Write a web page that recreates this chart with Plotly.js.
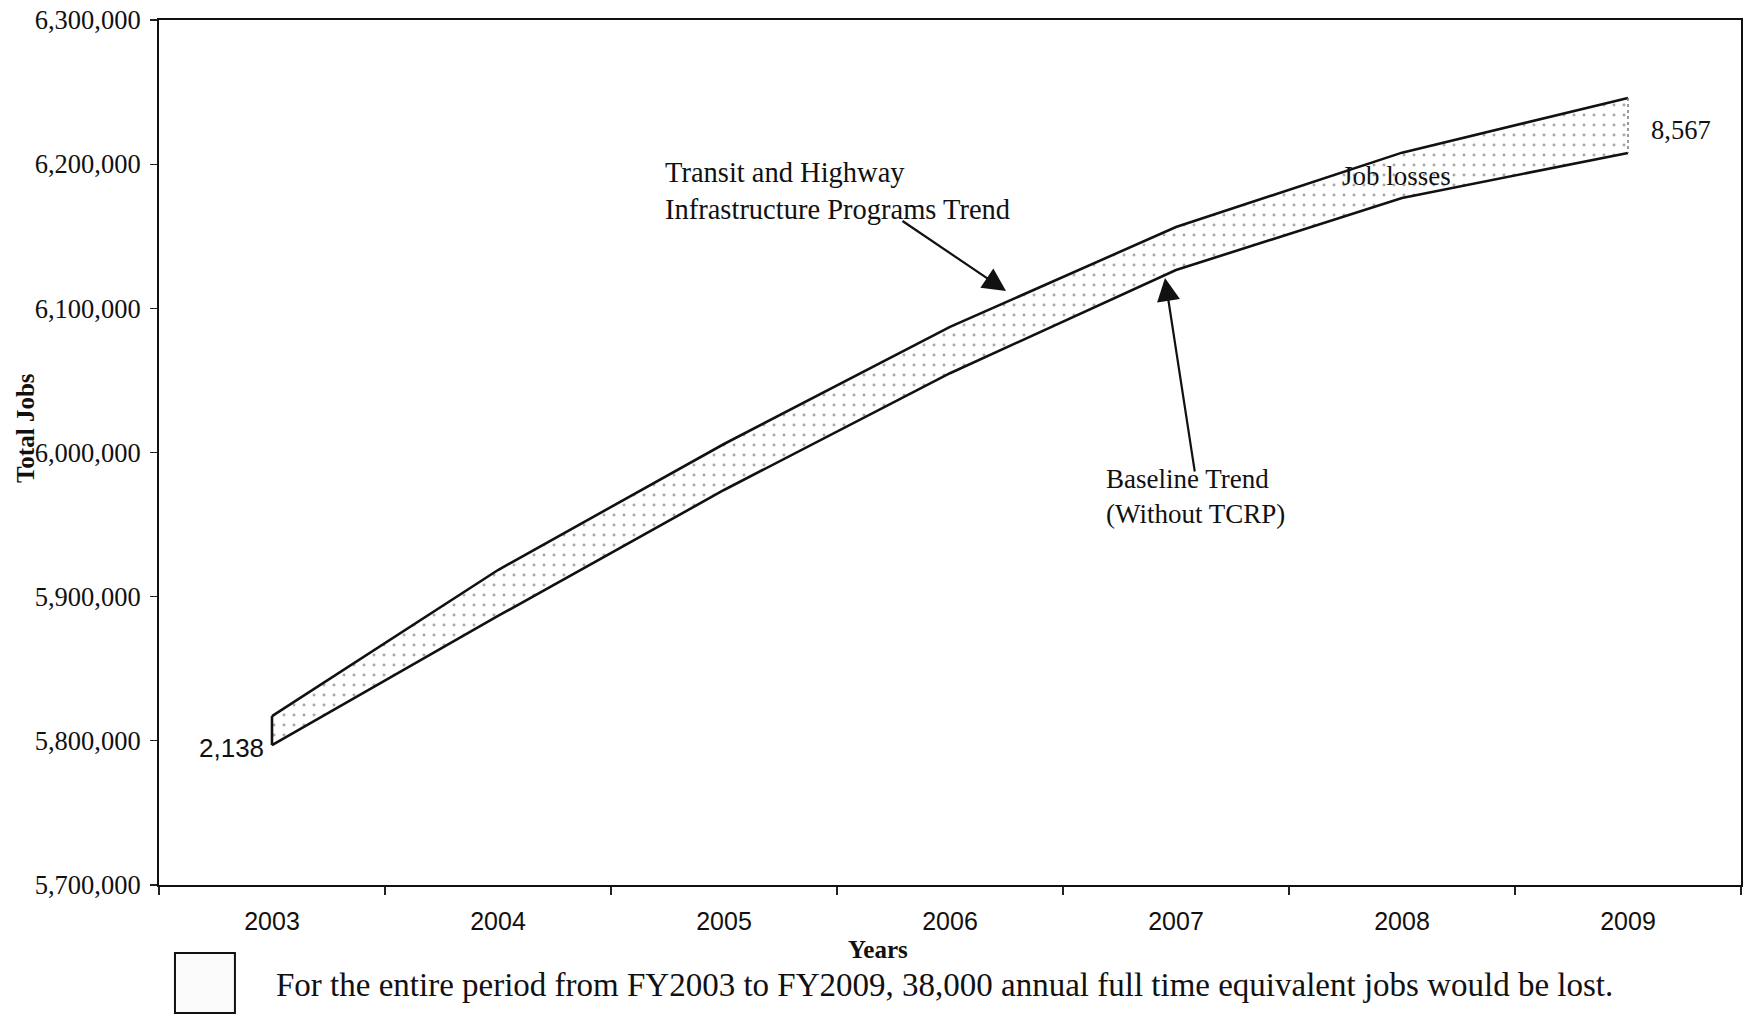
<!DOCTYPE html>
<html>
<head>
<meta charset="utf-8">
<script src="https://cdn.plot.ly/plotly-3.0.1.min.js"></script>
<style>
html,body{margin:0;padding:0;background:#fff;}
#chart{width:1744px;height:1016px;}
</style>
</head>
<body>
<div id="chart"></div>
<script>
// ---- data ----
const years = ['2003','2004','2005','2006','2007','2008','2009'];
const programsTrend = [5817200, 5918500, 6005900, 6087100, 6156400, 6208000, 6245900];
const baselineTrend = [5797000, 5886600, 5974000, 6055000, 6126600, 6176500, 6207800];
const yTicks = [5700000, 5800000, 5900000, 6000000, 6100000, 6200000, 6300000];
const startGapLabel = '2,138';
const endGapLabel = '8,567';
const programsLabel = 'Transit and Highway<br>Infrastructure Programs Trend';
const baselineLabel = 'Baseline Trend<br>(Without TCRP)';
const bandLabel = 'Job losses';
const noteText = 'For the entire period from FY2003 to FY2009, 38,000 annual full time equivalent jobs would be lost.';

const serif = 'Liberation Serif, Times New Roman, serif';
const sans = 'Liberation Sans, Arial, sans-serif';

const last = years.length - 1;
const traces = [
  { // shaded band between the two trends
    x: years.concat(years.slice().reverse()),
    y: programsTrend.concat(baselineTrend.slice().reverse()),
    type: 'scatter', mode: 'lines', fill: 'toself',
    fillcolor: 'rgba(255,255,255,1)',
    fillpattern: {shape: '.', fgcolor: '#a8a8a8', bgcolor: '#ffffff', size: 10, solidity: 0.07},
    line: {width: 0, color: 'rgba(0,0,0,0)'},
    hoverinfo: 'skip', showlegend: false
  },
  {
    x: years, y: programsTrend, type: 'scatter', mode: 'lines',
    line: {color: '#111', width: 2.6}, showlegend: false, name: 'Programs'
  },
  {
    x: years, y: baselineTrend, type: 'scatter', mode: 'lines',
    line: {color: '#111', width: 2.6}, showlegend: false, name: 'Baseline'
  },
  { // start cap
    x: [years[0], years[0]], y: [programsTrend[0], baselineTrend[0]],
    type: 'scatter', mode: 'lines', line: {color: '#111', width: 2.6},
    showlegend: false, hoverinfo: 'skip'
  },
  { // end cap (dotted)
    x: [years[last], years[last]], y: [programsTrend[last], baselineTrend[last]],
    type: 'scatter', mode: 'lines', line: {color: '#777', width: 1.5, dash: 'dot'},
    showlegend: false, hoverinfo: 'skip'
  }
];

const layout = {
  width: 1744, height: 1016,
  margin: {l: 159, r: 3, t: 20, b: 131},
  paper_bgcolor: '#fff', plot_bgcolor: '#fff',
  showlegend: false,
  xaxis: {
    type: 'category', range: [-0.5, 6.5],
    tickson: 'boundaries', ticks: 'outside', ticklen: 8, tickcolor: '#222', tickwidth: 1.2,
    showgrid: false, zeroline: false,
    showline: true, linecolor: '#111', linewidth: 2, mirror: true,
    tickfont: {family: sans, size: 25, color: '#111'},
    ticklabelstandoff: 13
  },
  yaxis: {
    range: [5700000, 6300000], tickvals: yTicks, tickformat: ',d',
    ticks: 'outside', ticklen: 7, tickcolor: '#222', tickwidth: 1.2,
    showgrid: false, zeroline: false,
    showline: true, linecolor: '#111', linewidth: 2, mirror: true,
    tickfont: {family: serif, size: 26.5, color: '#111'},
    ticklabelstandoff: 4
  },
  shapes: [
    {type: 'rect', xref: 'paper', yref: 'paper', x0: 0.0101, x1: 0.048, y0: -0.148, y1: -0.0786,
     line: {color: '#111', width: 2}, fillcolor: '#fbfbfb'}
  ],
  annotations: [
    {xref: 'paper', yref: 'paper', x: -0.0847, y: 0.5283, xanchor: 'center', yanchor: 'middle',
     text: '<b>Total Jobs</b>', textangle: -90,
     showarrow: false, font: {family: serif, size: 25, color: '#111'}},
    {xref: 'paper', yref: 'paper', x: 0.4545, y: -0.074, xanchor: 'center', yanchor: 'middle',
     text: '<b>Years</b>',
     showarrow: false, font: {family: serif, size: 25, color: '#111'}},
    {xref: 'paper', yref: 'paper', x: 0.0727, y: -0.1156, xanchor: 'left', yanchor: 'middle', text: noteText,
     showarrow: false, font: {family: serif, size: 33, color: '#111'}},
    {xref: 'paper', yref: 'paper', x: 0.024, y: 0.1584, xanchor: 'left', yanchor: 'middle', text: startGapLabel,
     showarrow: false, font: {family: sans, size: 26, color: '#111'}},
    {xref: 'paper', yref: 'paper', x: 0.9418, y: 0.8728, xanchor: 'left', yanchor: 'middle', text: endGapLabel,
     showarrow: false, font: {family: serif, size: 26.5, color: '#111'}},
    {xref: 'paper', yref: 'paper', x: 0.7465, y: 0.8197, xanchor: 'left', yanchor: 'middle', text: bandLabel,
     showarrow: false, font: {family: serif, size: 27, color: '#111'}},
    {xref: 'paper', yref: 'paper', x: 0.3186, y: 0.8023, xanchor: 'left', yanchor: 'middle', align: 'left',
     text: programsLabel,
     showarrow: false, font: {family: serif, size: 28.5, color: '#111'}},
    {xref: 'paper', yref: 'paper', x: 0.5973, y: 0.4497, xanchor: 'left', yanchor: 'middle', align: 'left',
     text: baselineLabel,
     showarrow: false, font: {family: serif, size: 27, color: '#111'}},
    {xref: 'paper', yref: 'paper', x: 0.5354, y: 0.6867, text: '', showarrow: true,
     ax: -105, ay: -71, arrowhead: 2, arrowsize: 2.1, arrowwidth: 2.2, arrowcolor: '#111'},
    {xref: 'paper', yref: 'paper', x: 0.6359, y: 0.7017, text: '', showarrow: true,
     ax: 30, ay: 195, arrowhead: 2, arrowsize: 2.1, arrowwidth: 2.2, arrowcolor: '#111'}
  ]
};

Plotly.newPlot('chart', traces, layout, {displayModeBar: false, staticPlot: true});
</script>
</body>
</html>
